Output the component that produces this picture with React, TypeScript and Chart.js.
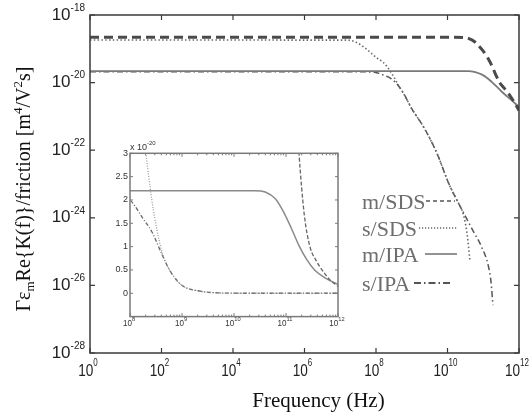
import React, { useEffect, useRef } from "react";
import { Chart, registerables } from "chart.js";

Chart.register(...registerables);

// ---------- data (log10 of frequency in Hz, value in m^4/V^2s) ----------
const seriesNames = ["m/SDS", "s/SDS", "m/IPA", "s/IPA"];

const mSdsLogF = [0, 10.2, 10.45, 10.6, 10.75, 10.85, 11.0, 11.12, 11.25, 11.35, 11.46, 11.58, 11.7, 11.85, 12];
const mSdsVal = [2.2e-19, 2.2e-19, 2.15e-19, 2.0e-19, 1.65e-19, 1.3e-19, 8.5e-20, 5.5e-20, 3.0e-20, 1.7e-20, 1.0e-20, 7.0e-21, 4.9e-21, 2.8e-21, 1.5e-21];

const sSdsLogF = [0, 7.2, 7.45, 7.75, 8.0, 8.2, 8.3, 8.42, 8.52, 8.62, 8.77, 9.0, 9.35, 9.7, 10.05, 10.3, 10.45, 10.55, 10.63, 10.7, 12];
const sSdsVal = [1.82e-19, 1.8e-19, 1.55e-19, 9.5e-20, 5.6e-20, 4.0e-20, 3.05e-20, 2.0e-20, 1.35e-20, 8.6e-21, 4.8e-21, 1.7e-21, 4.5e-22, 8.3e-23, 9.5e-24, 2.8e-24, 1.2e-24, 3.2e-25, 5.0e-26, 0, 0];

const mIpaLogF = [0, 10.4, 10.6, 10.8, 10.95, 11.1, 11.25, 11.4, 11.55, 11.75, 12];
const mIpaVal = [2.2e-20, 2.2e-20, 2.17e-20, 2.02e-20, 1.75e-20, 1.4e-20, 1.02e-20, 7.2e-21, 5.0e-21, 3.3e-21, 1.9e-21];

const sIpaLogF = [0, 7.6, 7.85, 8.0, 8.25, 8.42, 8.62, 8.77, 9.0, 9.35, 9.7, 10.05, 10.3, 10.45, 10.7, 10.95, 11.15, 11.22, 11.27, 11.35, 12];
const sIpaVal = [2.1e-20, 2.1e-20, 2.06e-20, 2.0e-20, 1.6e-20, 1.32e-20, 8.2e-21, 4.8e-21, 1.7e-21, 4.5e-22, 8.3e-23, 9.5e-24, 2.8e-24, 1.4e-24, 4.4e-25, 1.4e-25, 3.5e-26, 1.2e-26, 2.6e-27, 0, 0];

// ---------- axes ----------
const xTickExps = [0, 2, 4, 6, 8, 10, 12];
const yTickExps = [-18, -20, -22, -24, -26, -28];
const insetXTickExps = [8, 9, 10, 11, 12];
const insetYTicks = [0, 0.5, 1, 1.5, 2, 2.5, 3];
const insetUnitExp = -20;
const xTitle = "Frequency (Hz)";

// ---------- styles ----------
const mainStyles = [
  { color: "#4a4a4a", width: 3, dash: [9, 5] },
  { color: "#6a6a6a", width: 1.6, dash: [1.5, 2.3] },
  { color: "#7a7a7a", width: 1.8, dash: [] as number[] },
  { color: "#555555", width: 1.5, dash: [6, 3, 1.5, 3] },
];
const insetStyles = [
  { color: "#666666", width: 1.3, dash: [4, 2] },
  { color: "#9a9a9a", width: 1.3, dash: [1, 1.6] },
  { color: "#8a8a8a", width: 1.5, dash: [] as number[] },
  { color: "#666666", width: 1.3, dash: [4, 2, 1, 2] },
];
const legendStyles = [
  { color: "#555555", width: 1.5, dash: [4, 3] },
  { color: "#666666", width: 1.5, dash: [1.2, 1.8] },
  { color: "#777777", width: 1.6, dash: [] as number[] },
  { color: "#555555", width: 1.8, dash: [7, 3, 1.5, 3] },
];

const SANS = '"Liberation Sans", Arial, Helvetica, sans-serif';
const SERIF = '"Liberation Serif", "Times New Roman", Times, serif';

function mainPoints(logF: number[], vals: number[]) {
  return logF.map((f, i) => ({ x: Math.pow(10, f), y: vals[i] > 0 ? vals[i] : null }));
}
function insetPoints(logF: number[], vals: number[]) {
  return logF.map((f, i) => ({ x: Math.pow(10, f), y: vals[i] / Math.pow(10, insetUnitExp) }));
}

const allLogF = [mSdsLogF, sSdsLogF, mIpaLogF, sIpaLogF];
const allVals = [mSdsVal, sSdsVal, mIpaVal, sIpaVal];

function drawPow(
  ctx: CanvasRenderingContext2D,
  x: number,
  y: number,
  exp: string,
  o: { base: number; sup: number; sx: number; align: "center" | "right" | "left"; supDy: number; color: string; pre?: string }
) {
  const baseTxt = (o.pre || "") + "10";
  ctx.save();
  ctx.fillStyle = o.color;
  ctx.textBaseline = "middle";
  ctx.textAlign = "left";
  ctx.font = `${o.base}px ${SANS}`;
  const wb = ctx.measureText(baseTxt).width * o.sx;
  ctx.font = `${o.sup}px ${SANS}`;
  const we = ctx.measureText(exp).width * o.sx;
  const total = wb + we;
  const left = o.align === "center" ? x - total / 2 : o.align === "right" ? x - total : x;
  ctx.save();
  ctx.translate(left, y);
  ctx.scale(o.sx, 1);
  ctx.font = `${o.base}px ${SANS}`;
  ctx.fillText(baseTxt, 0, 0);
  ctx.restore();
  ctx.save();
  ctx.translate(left + wb, y + o.supDy);
  ctx.scale(o.sx, 1);
  ctx.font = `${o.sup}px ${SANS}`;
  ctx.fillText(exp, 0, 0);
  ctx.restore();
  ctx.restore();
}

type Seg = [string, number, number];
function drawRich(ctx: CanvasRenderingContext2D, segs: Seg[], cx: number, baseY: number) {
  let total = 0;
  for (const [t, s] of segs) {
    ctx.font = `${s}px ${SERIF}`;
    total += ctx.measureText(t).width;
  }
  let x = cx - total / 2;
  ctx.textAlign = "left";
  ctx.textBaseline = "alphabetic";
  for (const [t, s, dy] of segs) {
    ctx.font = `${s}px ${SERIF}`;
    ctx.fillText(t, x, baseY + dy);
    x += ctx.measureText(t).width;
  }
}

const mainDecor = {
  id: "mainDecor",
  afterDraw(chart: any) {
    const ctx: CanvasRenderingContext2D = chart.ctx;
    const { left, right, top, bottom } = chart.chartArea;
    const xs = chart.scales.x;
    const ys = chart.scales.y;
    ctx.save();
    // frame
    ctx.strokeStyle = "#3a3a3a";
    ctx.lineWidth = 1.5;
    ctx.setLineDash([]);
    ctx.strokeRect(left, top, right - left, bottom - top);
    // ticks
    ctx.lineWidth = 1.2;
    ctx.beginPath();
    for (const e of xTickExps) {
      const px = xs.getPixelForValue(Math.pow(10, e));
      ctx.moveTo(px, bottom);
      ctx.lineTo(px, bottom - 5);
      ctx.moveTo(px, top);
      ctx.lineTo(px, top + 5);
    }
    for (const e of yTickExps) {
      const py = ys.getPixelForValue(Math.pow(10, e));
      ctx.moveTo(left, py);
      ctx.lineTo(left + 5, py);
      ctx.moveTo(right, py);
      ctx.lineTo(right - 5, py);
    }
    ctx.stroke();
    // tick labels
    for (const e of xTickExps) {
      const px = xs.getPixelForValue(Math.pow(10, e));
      drawPow(ctx, px - 2, bottom + 18.5, String(e), { base: 17, sup: 10, sx: 0.8, align: "center", supDy: -8, color: "#222" });
    }
    for (const e of yTickExps) {
      const py = ys.getPixelForValue(Math.pow(10, e));
      drawPow(ctx, left - 5, py, String(e), { base: 17, sup: 10, sx: 1, align: "right", supDy: -7, color: "#222" });
    }
    // x title
    ctx.fillStyle = "#111";
    ctx.font = `21px ${SERIF}`;
    ctx.textAlign = "left";
    ctx.textBaseline = "alphabetic";
    const tw = ctx.measureText(xTitle).width;
    ctx.fillText(xTitle, (left + right) / 2 + 14 - tw / 2, bottom + 54);
    // y title
    ctx.save();
    ctx.translate(left - 60, (top + bottom) / 2 + 5);
    ctx.rotate(-Math.PI / 2);
    const segs: Seg[] = [
      ["\u0393\u03b5", 20, 0],
      ["m", 13, 4],
      ["Re{K(f)}/friction [m", 20, 0],
      ["4", 13, -8],
      ["/V", 20, 0],
      ["2", 13, -8],
      ["s]", 20, 0],
    ];
    drawRich(ctx, segs, 0, 0);
    ctx.restore();
    // legend
    const legendRows = [201, 228, 254, 283];
    const legendLineX = [
      [426, 455],
      [419, 457],
      [425, 457],
      [414, 450],
    ];
    ctx.font = `22px ${SERIF}`;
    ctx.textAlign = "left";
    ctx.textBaseline = "alphabetic";
    seriesNames.forEach((name, i) => {
      const y = legendRows[i];
      ctx.fillStyle = "#6e6e6e";
      ctx.fillText(name, 362, y + 7.5);
      const st = legendStyles[i];
      ctx.strokeStyle = st.color;
      ctx.lineWidth = st.width;
      ctx.setLineDash(st.dash);
      ctx.beginPath();
      ctx.moveTo(legendLineX[i][0], y);
      ctx.lineTo(legendLineX[i][1], y);
      ctx.stroke();
    });
    ctx.setLineDash([]);
    ctx.restore();
  },
};

const insetDecor = {
  id: "insetDecor",
  afterDraw(chart: any) {
    const ctx: CanvasRenderingContext2D = chart.ctx;
    const { left, right, top, bottom } = chart.chartArea;
    const xs = chart.scales.x;
    const ys = chart.scales.y;
    ctx.save();
    ctx.setLineDash([]);
    ctx.strokeStyle = "#7a7a7a";
    ctx.lineWidth = 1.5;
    ctx.strokeRect(left, top, right - left, bottom - top);
    ctx.lineWidth = 1;
    ctx.beginPath();
    for (const v of insetYTicks) {
      const py = ys.getPixelForValue(v);
      ctx.moveTo(left, py);
      ctx.lineTo(left + 3, py);
      ctx.moveTo(right, py);
      ctx.lineTo(right - 3, py);
    }
    for (const e of insetXTickExps) {
      const px = xs.getPixelForValue(Math.pow(10, e));
      ctx.moveTo(px, bottom);
      ctx.lineTo(px, bottom - 3.5);
      ctx.moveTo(px, top);
      ctx.lineTo(px, top + 3.5);
      if (e < insetXTickExps[insetXTickExps.length - 1]) {
        for (let m = 2; m <= 9; m++) {
          const pm = xs.getPixelForValue(m * Math.pow(10, e));
          ctx.moveTo(pm, bottom);
          ctx.lineTo(pm, bottom - 2);
          ctx.moveTo(pm, top);
          ctx.lineTo(pm, top + 2);
        }
      }
    }
    ctx.stroke();
    // y labels
    ctx.fillStyle = "#333";
    ctx.font = `9px ${SANS}`;
    ctx.textAlign = "right";
    ctx.textBaseline = "middle";
    for (const v of insetYTicks) {
      ctx.fillText(String(v), left - 2, ys.getPixelForValue(v));
    }
    // x labels
    for (const e of insetXTickExps) {
      const px = xs.getPixelForValue(Math.pow(10, e));
      drawPow(ctx, px - 1, bottom + 7, String(e), { base: 8.5, sup: 6, sx: 0.95, align: "center", supDy: -4.5, color: "#333" });
    }
    // unit label
    drawPow(ctx, left, top - 5.6, String(insetUnitExp), { base: 9, sup: 6, sx: 1, align: "left", supDy: -4.5, color: "#333", pre: "x " });
    ctx.restore();
  },
};

export default function App() {
  const mainRef = useRef<HTMLCanvasElement>(null);
  const insetRef = useRef<HTMLCanvasElement>(null);

  useEffect(() => {
    const mainChart = new Chart(mainRef.current as HTMLCanvasElement, {
      type: "line",
      data: {
        datasets: seriesNames.map((name, i) => ({
          label: name,
          data: mainPoints(allLogF[i], allVals[i]) as any,
          borderColor: mainStyles[i].color,
          borderWidth: mainStyles[i].width,
          borderDash: mainStyles[i].dash,
          pointRadius: 0,
          fill: false,
          cubicInterpolationMode: "monotone" as const,
          spanGaps: false,
        })),
      },
      options: {
        responsive: false,
        animation: false,
        layout: { padding: { left: 90, top: 15, right: 12, bottom: 63 } },
        scales: {
          x: { type: "logarithmic", min: 1, max: 1e12, display: false },
          y: { type: "logarithmic", min: 1e-28, max: 1e-18, display: false },
        },
        plugins: { legend: { display: false }, tooltip: { enabled: false } },
      },
      plugins: [mainDecor],
    });

    const insetChart = new Chart(insetRef.current as HTMLCanvasElement, {
      type: "line",
      data: {
        datasets: seriesNames.map((name, i) => ({
          label: name,
          data: insetPoints(allLogF[i], allVals[i]) as any,
          borderColor: insetStyles[i].color,
          borderWidth: insetStyles[i].width,
          borderDash: insetStyles[i].dash,
          pointRadius: 0,
          fill: false,
          cubicInterpolationMode: "monotone" as const,
        })),
      },
      options: {
        responsive: false,
        animation: false,
        layout: { padding: { left: 35, top: 23.3, right: 12, bottom: 23.4 } },
        scales: {
          x: { type: "logarithmic", min: 1e8, max: 1e12, display: false },
          y: { type: "linear", min: -0.5, max: 3, display: false },
        },
        plugins: { legend: { display: false }, tooltip: { enabled: false } },
      },
      plugins: [insetDecor],
    });

    return () => {
      mainChart.destroy();
      insetChart.destroy();
    };
  }, []);

  return (
    <div style={{ position: "fixed", left: 0, top: 0, width: 531, height: 416, background: "#fff" }}>
      <canvas
        ref={mainRef}
        width={531}
        height={416}
        style={{ position: "absolute", left: 0, top: 0, width: 531, height: 416 }}
      />
      <canvas
        ref={insetRef}
        width={255}
        height={210}
        style={{ position: "absolute", left: 95, top: 130, width: 255, height: 210 }}
      />
    </div>
  );
}
